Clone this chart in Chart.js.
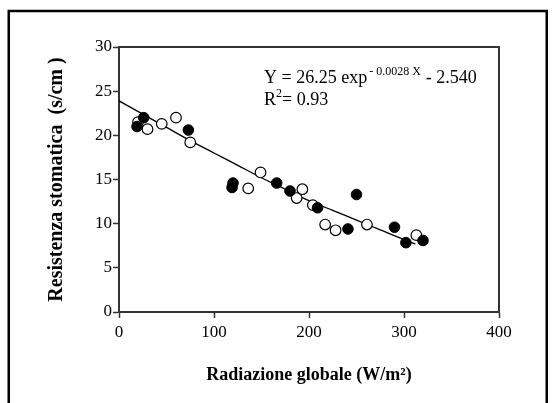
<!DOCTYPE html>
<html>
<head>
<meta charset="utf-8">
<script src="https://cdn.jsdelivr.net/npm/chart.js@4/dist/chart.umd.min.js"></script>
<style>
  html, body { margin: 0; padding: 0; background: #fff; }
  #wrap { width: 555px; height: 403px; }
</style>
</head>
<body>
<div id="wrap"><canvas id="chart" width="555" height="403"></canvas></div>
<script>
// filled circles
var filledX = [19, 26, 73, 119, 120, 166, 180, 209, 241, 250, 290, 302, 320];
var filledY = [21.0, 22.0, 20.6, 14.1, 14.6, 14.6, 13.7, 11.8, 9.4, 13.3, 9.6, 7.85, 8.1];
// open circles
var openX = [20, 30, 45, 60, 75, 136, 149, 187, 193, 204, 217, 228, 261, 313];
var openY = [21.5, 20.7, 21.3, 22.0, 19.2, 14.0, 15.8, 12.9, 13.9, 12.1, 9.9, 9.25, 9.9, 8.7];
// fitted curve
var fitX = [0, 25, 50, 75, 100, 125, 150, 175, 200, 225, 250, 275, 300, 312];
var fitY = [23.9, 22.4, 20.9, 19.4, 18.0, 16.6, 15.2, 13.9, 12.6, 11.5, 10.4, 9.3, 8.2, 7.7];

var xTicks = [0, 100, 200, 300, 400];
var yTicks = [0, 5, 10, 15, 20, 25, 30];

function pts(xs, ys) {
    return xs.map(function(x, i) { return {x: x, y: ys[i]}; });
}

var serif = "'Liberation Serif', 'Times New Roman', serif";

var framePlugin = {
    id: 'frame',
    beforeDraw: function(chart) {
        var ctx = chart.ctx;
        ctx.save();
        ctx.fillStyle = '#fff';
        ctx.fillRect(0, 0, chart.width, chart.height);
        ctx.strokeStyle = '#000';
        ctx.lineWidth = 2.5;
        ctx.strokeRect(8.75, 11, 538, 420);
        ctx.restore();
    },
    afterDraw: function(chart) {
        var ctx = chart.ctx, a = chart.chartArea;
        ctx.save();
        // top and right sides of the plot box
        ctx.strokeStyle = '#333';
        ctx.lineWidth = 2;
        ctx.beginPath();
        ctx.moveTo(a.left - 1, a.top);
        ctx.lineTo(a.right, a.top);
        ctx.lineTo(a.right, a.bottom + 1);
        ctx.stroke();

        // equation
        ctx.fillStyle = '#000';
        ctx.textBaseline = 'alphabetic';
        var x = 264, y = 83;
        ctx.font = '18px ' + serif;
        ctx.fillText('Y = 26.25 exp', x, y);
        x += ctx.measureText('Y = 26.25 exp').width + 2;
        ctx.font = '12px ' + serif;
        ctx.fillText('- 0.0028 X', x, y - 8);
        x += ctx.measureText('- 0.0028 X').width + 5;
        ctx.font = '18px ' + serif;
        ctx.fillText('- 2.540', x, y);

        x = 264; y = 105;
        ctx.fillText('R', x, y);
        x += ctx.measureText('R').width;
        ctx.font = '12px ' + serif;
        ctx.fillText('2', x, y - 8);
        x += ctx.measureText('2').width;
        ctx.font = '18px ' + serif;
        ctx.fillText('= 0.93', x, y);
        ctx.restore();
    }
};

var chart = new Chart(document.getElementById('chart'), {
    type: 'scatter',
    data: {
        datasets: [{
            type: 'line',
            label: 'fit',
            data: pts(fitX, fitY),
            borderColor: '#000',
            borderWidth: 1.3,
            pointRadius: 0,
            fill: false,
            cubicInterpolationMode: 'monotone',
            order: 3
        }, {
            label: 'open',
            data: pts(openX, openY),
            backgroundColor: '#fff',
            borderColor: '#000',
            borderWidth: 1.2,
            pointRadius: 5.3,
            order: 2
        }, {
            label: 'filled',
            data: pts(filledX, filledY),
            backgroundColor: '#000',
            borderColor: '#000',
            borderWidth: 1,
            pointRadius: 5.3,
            order: 1
        }]
    },
    options: {
        responsive: false,
        animation: false,
        layout: { padding: { top: 47, right: 56, bottom: 17, left: 45 } },
        plugins: {
            legend: { display: false },
            tooltip: { enabled: false }
        },
        scales: {
            x: {
                type: 'linear',
                min: 0,
                max: 400,
                afterBuildTicks: function(s) { s.ticks = xTicks.map(function(v) { return {value: v}; }); },
                afterFit: function(s) { s.height = 74; },
                ticks: { color: '#000', padding: 4, font: { family: serif, size: 17 } },
                grid: { drawOnChartArea: false, tickLength: 6, tickColor: '#333', tickWidth: 1.5 },
                border: { color: '#333', width: 2 },
                title: {
                    display: true,
                    text: 'Radiazione globale (W/m²)',
                    color: '#000',
                    padding: 0,
                    font: { family: serif, size: 18, weight: 'bold' }
                }
            },
            y: {
                type: 'linear',
                min: 0,
                max: 30,
                afterBuildTicks: function(s) { s.ticks = yTicks.map(function(v) { return {value: v}; }); },
                afterFit: function(s) { s.width = 74; },
                ticks: { color: '#000', padding: 1, font: { family: serif, size: 17 } },
                grid: { drawOnChartArea: false, tickLength: 6, tickColor: '#333', tickWidth: 1.5 },
                border: { color: '#333', width: 2 },
                title: {
                    display: true,
                    text: 'Resistenza stomatica  (s/cm )',
                    color: '#000',
                    padding: 0,
                    font: { family: serif, size: 20, weight: 'bold' }
                }
            }
        }
    },
    plugins: [framePlugin]
});
</script>
</body>
</html>
